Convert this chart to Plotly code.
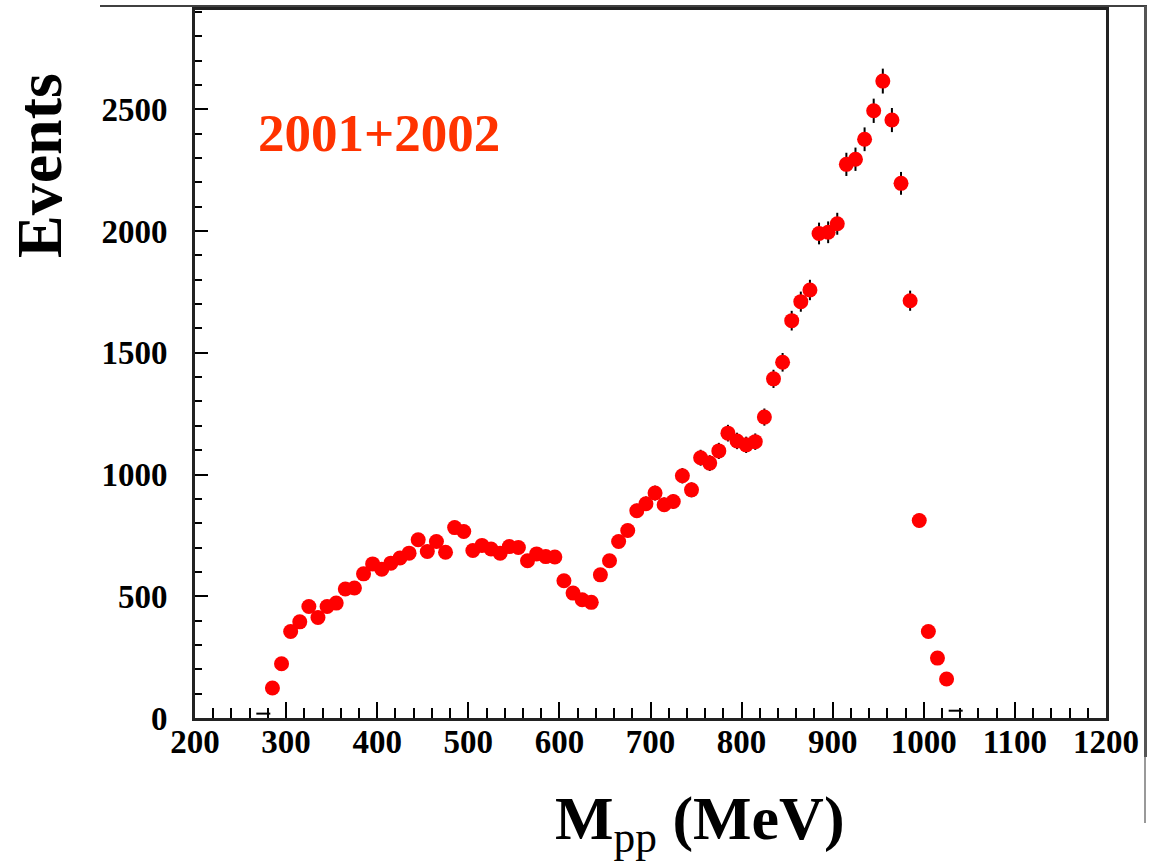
import numpy as np
import plotly.graph_objects as go

# pi-pi invariant mass spectrum, 10 MeV bins (bin centres in MeV)
mass = [285, 295, 305, 315, 325, 335, 345, 355, 365, 375,
        385, 395, 405, 415, 425, 435, 445, 455, 465, 475,
        485, 495, 505, 515, 525, 535, 545, 555, 565, 575,
        585, 595, 605, 615, 625, 635, 645, 655, 665, 675,
        685, 695, 705, 715, 725, 735, 745, 755, 765, 775,
        785, 795, 805, 815, 825, 835, 845, 855, 865, 875,
        885, 895, 905, 915, 925, 935, 945, 955, 965, 975,
        985, 995, 1005, 1015, 1025]

events = [123, 223, 355, 395, 458, 413, 458, 472, 530, 534,
          592, 633, 611, 636, 657, 677, 732, 684, 725, 681,
          782, 766, 688, 709, 694, 677, 704, 700, 646, 674,
          663, 661, 564, 513, 486, 475, 588, 646, 725, 770,
          851, 880, 924, 876, 889, 995, 937, 1069, 1047, 1097,
          1170, 1138, 1122, 1135, 1236, 1393, 1461, 1632, 1710, 1758,
          1990, 1995, 2030, 2274, 2295, 2377, 2494, 2616, 2456, 2196,
          1714, 811, 355, 246, 160]

# nearly empty edge bins, drawn as bare bin-width dashes
edge_mass = [275, 1035]
edge_events = [18, 30]

x_ticks = [200, 300, 400, 500, 600, 700, 800, 900, 1000, 1100, 1200]
y_ticks = [0, 500, 1000, 1500, 2000, 2500]

# Poisson uncertainty on each bin
errors = np.sqrt(np.array(events, dtype=float))

SERIF = "Liberation Serif"

fig = go.Figure()

fig.add_trace(go.Scatter(
    x=mass, y=events, mode="markers",
    marker=dict(symbol="circle", size=15, color="#ff0000", line=dict(width=0)),
    error_y=dict(type="data", array=errors, visible=True,
                 color="black", thickness=2, width=0),
    showlegend=False, cliponaxis=False,
))

fig.add_trace(go.Scatter(
    x=edge_mass, y=edge_events, mode="markers",
    marker=dict(symbol="line-ew-open", size=10, color="black",
                line=dict(width=2, color="black")),
    showlegend=False,
))

# plot-area geometry in pixels
L, R, T, B = 195, 1106, 10, 718
W, H = 1158, 866
pw, ph = R - L, B - T


def px(xp):
    return (xp - L) / pw


def py(yp):
    return (B - yp) / ph


fig.update_layout(
    width=W, height=H,
    margin=dict(l=L, r=W - R, t=T, b=H - B, autoexpand=False),
    paper_bgcolor="white", plot_bgcolor="white",
    xaxis=dict(
        range=[200, 1200], tickmode="array", tickvals=x_ticks,
        ticktext=[str(v) for v in x_ticks],
        ticks="inside", ticklen=16, tickwidth=1.5, tickcolor="black",
        minor=dict(dtick=20, ticks="inside", ticklen=10, tickwidth=1.5,
                   tickcolor="black", showgrid=False),
        showgrid=False, zeroline=False,
        showline=True, linecolor="#222", linewidth=3, mirror=True,
        tickfont=dict(family=SERIF, size=33, color="black", weight="bold"),
        ticklabelstandoff=-8,
    ),
    yaxis=dict(
        range=[0, 2908], tickmode="array", tickvals=y_ticks,
        ticktext=[str(v) for v in y_ticks],
        ticks="inside", ticklen=13, tickwidth=1.5, tickcolor="black",
        minor=dict(dtick=100, ticks="inside", ticklen=7, tickwidth=1.5,
                   tickcolor="black", showgrid=False),
        showgrid=False, zeroline=False,
        showline=True, linecolor="#222", linewidth=3, mirror=True,
        tickfont=dict(family=SERIF, size=33, color="black", weight="bold"),
        ticklabelstandoff=18,
    ),
)

annotations = [
    dict(text="2001+2002", x=px(379), y=py(133), xref="paper", yref="paper",
         showarrow=False, xanchor="center", yanchor="middle",
         font=dict(family=SERIF, size=53, color="#ff3300", weight="bold")),
    dict(text="Events", x=px(40), y=py(166), xref="paper", yref="paper",
         showarrow=False, xanchor="center", yanchor="middle", textangle=-90,
         font=dict(family=SERIF, size=64, color="black", weight="bold")),
    dict(text="<b>M</b><sub>pp</sub><b> (MeV)</b>", x=px(700), y=py(822),
         xref="paper", yref="paper", showarrow=False,
         xanchor="center", yanchor="middle",
         font=dict(family=SERIF, size=62, color="black")),
]
fig.update_layout(annotations=annotations)

# slide border lines around the figure
fig.add_shape(type="line", xref="paper", yref="paper",
              x0=px(100), x1=px(1147), y0=py(6), y1=py(6),
              line=dict(color="black", width=1.5))
fig.add_shape(type="line", xref="paper", yref="paper",
              x0=px(1145.5), x1=px(1145.5), y0=py(6), y1=py(757),
              line=dict(color="#555", width=3))
fig.add_shape(type="line", xref="paper", yref="paper",
              x0=px(1145), x1=px(1145), y0=py(757), y1=py(823),
              line=dict(color="#555", width=1.2))

fig.write_html("out.html")
